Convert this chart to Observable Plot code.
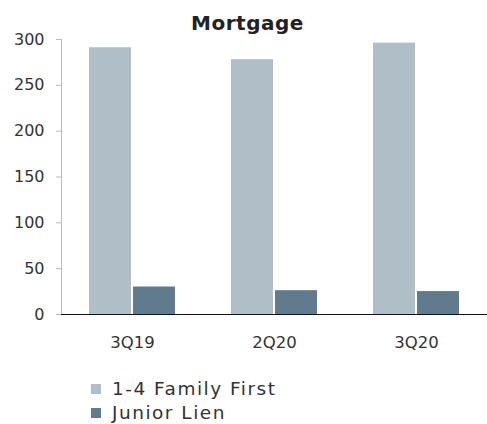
<!DOCTYPE html>
<html><head><meta charset="utf-8">
<script src="https://cdn.jsdelivr.net/npm/d3@7"></script>
<script src="https://cdn.jsdelivr.net/npm/@observablehq/plot@0.6"></script>
<style>
body{margin:0;background:#fff;font-family:"DejaVu Sans",sans-serif;width:487px;height:424px;overflow:hidden;position:relative}
#title{position:absolute;z-index:2;left:4px;top:0;width:487px;text-align:center;font-weight:bold;font-size:20px;letter-spacing:0.5px;line-height:20px;padding-top:13px;color:#222}
#chart{position:absolute;z-index:1;left:0;top:30px}
#legend{position:absolute;left:91px;top:377px;font-size:18.5px;letter-spacing:1.5px;color:#333}
.item{display:flex;align-items:center;height:24px}
.item span{line-height:18px}
.sw{width:10px;height:10px;margin-right:11px}
</style></head><body>
<div id="title">Mortgage</div>
<div id="chart"></div>
<div id="legend"></div>
<script>
const quarters = ["3Q19", "2Q20", "3Q20"];
const seriesNames = ["1-4 Family First", "Junior Lien"];
const familyFirst = [291, 278, 296];
const juniorLien = [30, 26, 25];
const seriesColors = ["#b0bec8", "#607b8d"];
const yTicks = [0, 50, 100, 150, 200, 250, 300];

const data = quarters.flatMap((q, i) => [
  {quarter: q, series: seriesNames[0], value: familyFirst[i]},
  {quarter: q, series: seriesNames[1], value: juniorLien[i]}
]);

const plot = Plot.plot({
  width: 487, height: 324,
  marginTop: 9, marginLeft: 60, marginRight: 0, marginBottom: 40,
  style: {fontFamily: "DejaVu Sans", fontSize: "16px", color: "#333", background: "transparent", overflow: "visible"},
  fx: {domain: quarters, padding: 0, label: null, axis: null},
  x: {domain: seriesNames, paddingInner: 0.044, paddingOuter: 0.62, axis: null},
  y: {domain: [0, 300], label: null, axis: null},
  color: {domain: seriesNames, range: seriesColors},
  marks: [
    Plot.barY(data, {fx: "quarter", x: "series", y: "value", fill: "series"}),
    Plot.axisY({ticks: yTicks, tickSize: 5, tickPadding: 12, stroke: "#bbb", fill: "#333", fontSize: 16, label: null}),
    Plot.axisFx({anchor: "bottom", tickSize: 0, tickPadding: 22, fontSize: 16.5, fill: "#333", label: null}),
    Plot.frame({anchor: "left", stroke: "#bbb", facet: "super"}),
    Plot.ruleY([0], {stroke: "#111", strokeWidth: 1.2})
  ]
});
document.getElementById("chart").append(plot);

const legend = document.getElementById("legend");
seriesNames.forEach((name, i) => {
  const item = document.createElement("div");
  item.className = "item";
  const sw = document.createElement("div");
  sw.className = "sw";
  sw.style.background = seriesColors[i];
  const label = document.createElement("span");
  label.textContent = name;
  item.append(sw, label);
  legend.append(item);
});
</script>
</body></html>
